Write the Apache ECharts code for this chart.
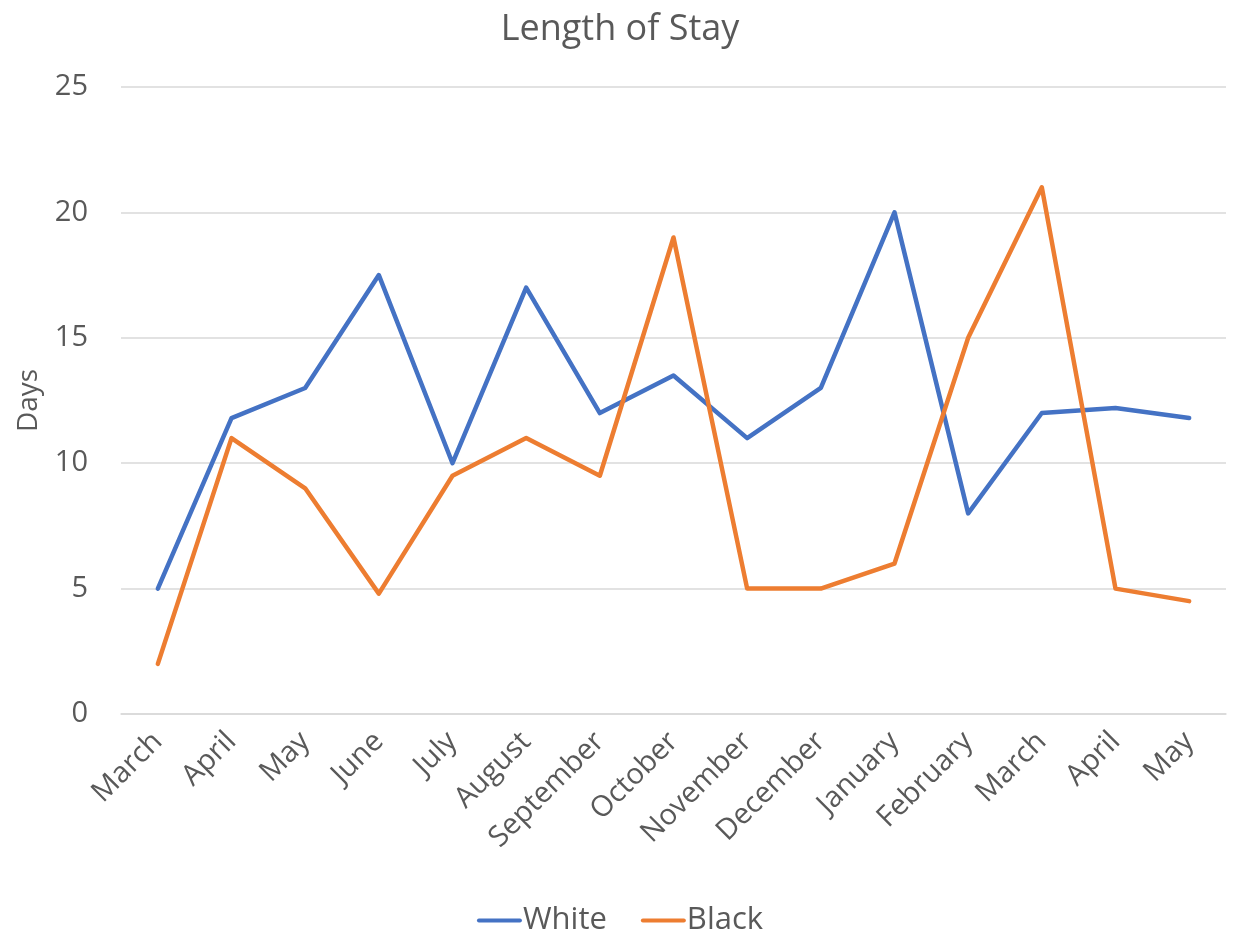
<!DOCTYPE html>
<html>
<head>
<meta charset="utf-8">
<script src="https://cdn.jsdelivr.net/npm/echarts@6/dist/echarts.min.js"></script>
<style>
  html, body { margin: 0; padding: 0; background: #fff; }
  #chart { width: 1240px; height: 937px; }
</style>
</head>
<body>
<div id="chart"></div>
<script>
const months = ['March', 'April', 'May', 'June', 'July', 'August', 'September', 'October',
  'November', 'December', 'January', 'February', 'March', 'April', 'May']
const white = [5, 11.8, 13, 17.5, 10, 17, 12, 13.5, 11, 13, 20, 8, 12, 12.2, 11.8]
const black = [2, 11, 9, 4.8, 9.5, 11, 9.5, 19, 5, 5, 6, 15, 21, 5, 4.5]

const font = '"Open Sans", "Noto Sans", sans-serif'
const textColor = '#595959'
const lineIcon = 'path://M2,0 L43,0 A2,2 0 0 1 43,4 L2,4 A2,2 0 0 1 2,0 Z'

const myChart = echarts.init(document.getElementById('chart'))
const option = {
  animation: false,
  textStyle: { fontFamily: font },
  title: {
    text: 'Length of Stay',
    left: 'center',
    top: 7,
    textStyle: { fontFamily: font, fontSize: 36, fontWeight: 'normal', color: textColor }
  },
  legend: {
    bottom: -4,
    left: 'center',
    itemWidth: 45,
    itemHeight: 5,
    itemGap: 34,
    textStyle: { fontFamily: font, fontSize: 31, color: textColor, padding: [0, 0, 0, -4] },
    data: [
      { name: 'White', icon: lineIcon },
      { name: 'Black', icon: lineIcon }
    ]
  },
  grid: {
    left: 121,
    right: 14,
    top: 87,
    bottom: 223
  },
  xAxis: {
    type: 'category',
    data: months,
    boundaryGap: true,
    axisLine: { lineStyle: { color: '#d9d9d9', width: 1.5 } },
    axisTick: { show: false },
    axisLabel: {
      interval: 0,
      rotate: 45,
      margin: 23,
      fontFamily: font,
      fontSize: 29,
      color: textColor
    }
  },
  yAxis: {
    type: 'value',
    min: 0,
    max: 25,
    interval: 5,
    name: 'Days',
    nameLocation: 'middle',
    nameGap: 78,
    nameTextStyle: { fontFamily: font, fontSize: 28, color: textColor },
    axisLine: { show: false },
    axisTick: { show: false },
    axisLabel: { fontFamily: font, fontSize: 29, color: textColor, margin: 33 },
    splitLine: { lineStyle: { color: '#d9d9d9', width: 1.5 } }
  },
  series: [
    {
      name: 'White',
      type: 'line',
      data: white,
      symbol: 'none',
      itemStyle: { color: '#4472c4' },
      lineStyle: { color: '#4472c4', width: 4.5, cap: 'round', join: 'round' }
    },
    {
      name: 'Black',
      type: 'line',
      data: black,
      symbol: 'none',
      itemStyle: { color: '#ed7d31' },
      lineStyle: { color: '#ed7d31', width: 4.5, cap: 'round', join: 'round' }
    }
  ]
}

option && myChart.setOption(option)
</script>
</body>
</html>
